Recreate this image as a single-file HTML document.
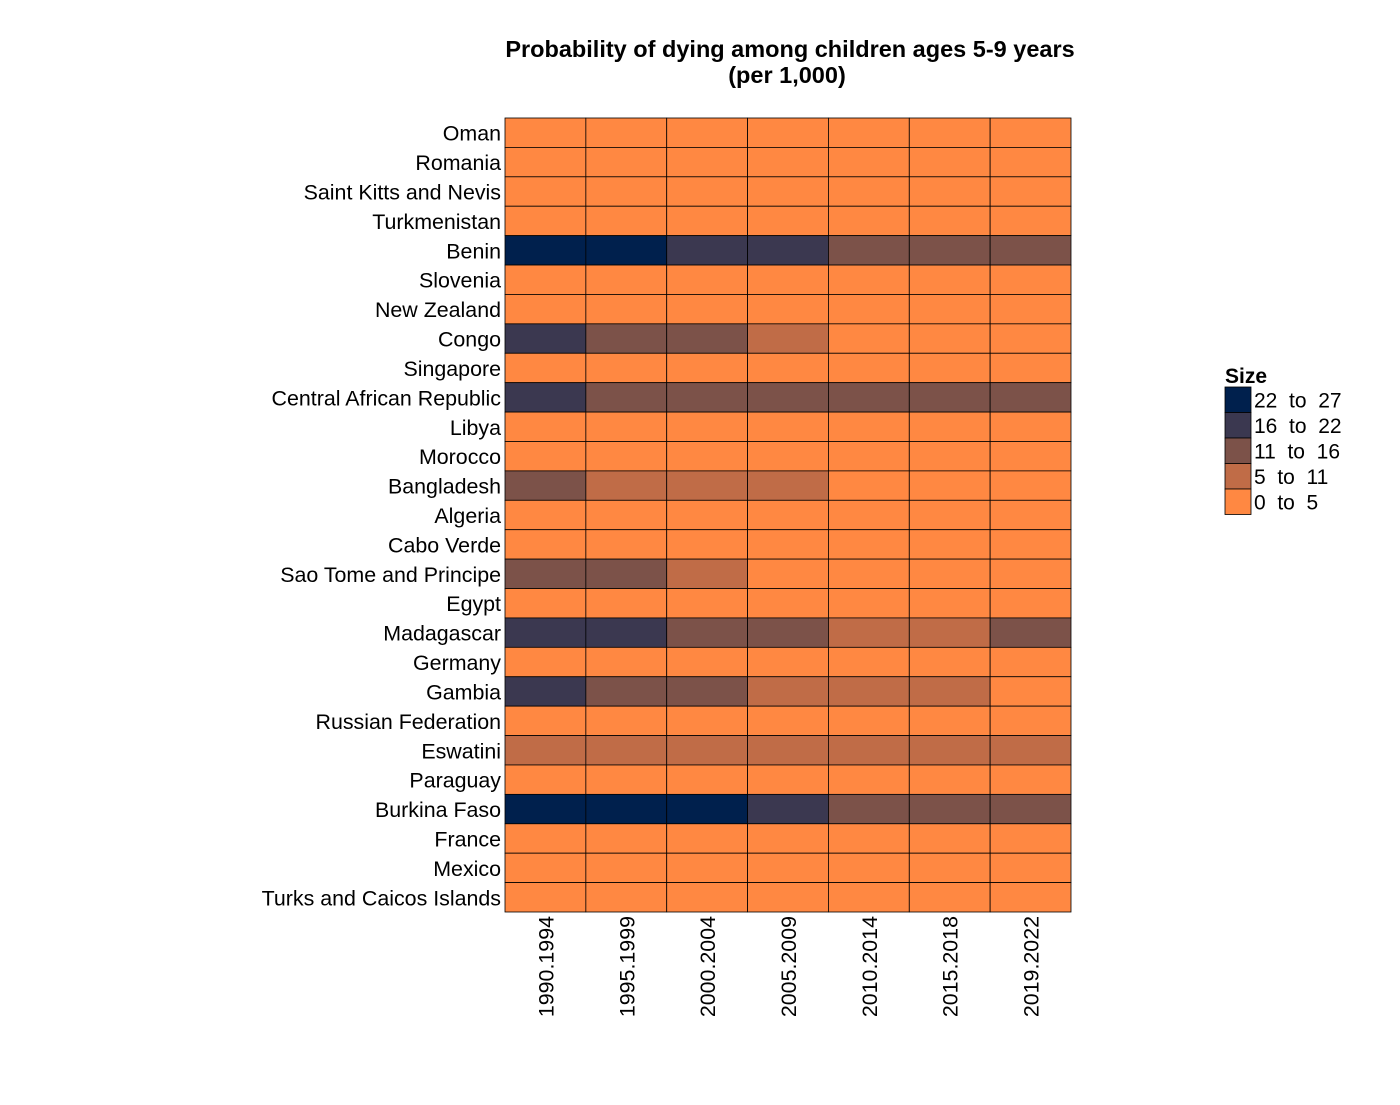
<!DOCTYPE html>
<html><head><meta charset="utf-8"><style>
body{margin:0;background:#fff;}
svg text{font-family:"Liberation Sans",Arial,sans-serif;}
</style></head><body>
<svg id="chart" width="1400" height="1100">
<text x="790" y="57" text-anchor="middle" font-size="23.5" font-weight="bold">Probability of dying among children ages 5-9 years</text>
<text x="787" y="83" text-anchor="middle" font-size="23.5" font-weight="bold">(per 1,000)</text>
<g id="cells"></g><g id="ylab"></g><g id="xlab"></g><g id="legend"></g>
</svg>
<script>
const periods=["1990.1994","1995.1999","2000.2004","2005.2009","2010.2014","2015.2018","2019.2022"];
const countries=["Oman","Romania","Saint Kitts and Nevis","Turkmenistan","Benin","Slovenia","New Zealand","Congo","Singapore","Central African Republic","Libya","Morocco","Bangladesh","Algeria","Cabo Verde","Sao Tome and Principe","Egypt","Madagascar","Germany","Gambia","Russian Federation","Eswatini","Paraguay","Burkina Faso","France","Mexico","Turks and Caicos Islands"];
const values=[
[2,2,2,2,2,2,2],[2,2,2,2,2,2,2],[2,2,2,2,2,2,2],[3,3,3,3,3,3,3],
[24,23,19,18,14,13,12],[1,1,1,1,1,1,1],[1,1,1,1,1,1,1],
[18,14,12,8,4,4,4],[1,1,1,1,1,1,1],[19,15,14,14,14,14,13],
[2,2,2,2,2,2,2],[3,3,3,3,3,3,3],[12,9,7,6,4,3,3],[3,3,3,3,3,3,3],[3,3,3,3,3,3,3],
[12,11,8,4,4,4,4],[3,3,3,3,3,3,3],[20,18,14,12,10,9,12],[1,1,1,1,1,1,1],
[17,13,12,10,9,8,4],[2,2,2,2,2,2,2],[8,8,9,9,10,9,7],[3,3,3,3,3,3,3],
[26,25,23,20,15,14,12],[1,1,1,1,1,1,1],[3,3,3,3,3,3,3],[2,2,2,2,2,2,2]];
const binLabels=["0  to  5","5  to  11","11  to  16","16  to  22","22  to  27"];
const binEdges=[5,11,16,22];
const colors=["#ff8842","#c06c47","#7c5249","#3b3850","#00204d"];
const NS="http://www.w3.org/2000/svg";
const X0=505,X1=1071,Y0=118,Y1=912;
const cw=(X1-X0)/periods.length, ch=(Y1-Y0)/countries.length;
const xs=i=>X0+i*cw, ys=j=>Y0+j*ch;
function bin(v){let b=0;for(const e of binEdges){if(v>=e)b++;}return b;}
function mk(t,a,p){const e=document.createElementNS(NS,t);for(const k in a)e.setAttribute(k,a[k]);p.appendChild(e);return e;}
const cells=document.getElementById('cells');
countries.forEach((c,j)=>periods.forEach((p,i)=>{
 const r=mk('rect',{x:xs(i),y:ys(j),width:cw,height:ch,fill:colors[bin(values[j][i])],stroke:"#000","stroke-width":0.8},cells);
 
 
}));
const yl=document.getElementById('ylab');
countries.forEach((c,j)=>{const t=mk('text',{x:X0-4,y:ys(j)+ch/2+8,"text-anchor":"end","font-size":21.4},yl);t.textContent=c;
 
 });
const xl=document.getElementById('xlab');
periods.forEach((p,i)=>{const cx=xs(i)+cw/2+8;const t=mk('text',{x:cx,y:916,"text-anchor":"end","font-size":21.4,transform:`rotate(-90 ${cx} 916)`},xl);t.textContent=p;
 
 });
const lg=document.getElementById('legend');
const lt=mk('text',{x:1225,y:383,"font-size":21,"font-weight":"bold"},lg);lt.textContent="Size";


for(let k=0;k<5;k++){const b=4-k;const y=387+k*25.5;
 const r=mk('rect',{x:1225,y:y,width:26,height:25.5,fill:colors[b],stroke:"#000","stroke-width":0.8},lg);
 
 
 const t=mk('text',{x:1254,y:y+20.5,"font-size":21,"xml:space":"preserve"},lg);t.textContent=binLabels[b];t.style.whiteSpace="pre";
 
 }
</script>
</body></html>
